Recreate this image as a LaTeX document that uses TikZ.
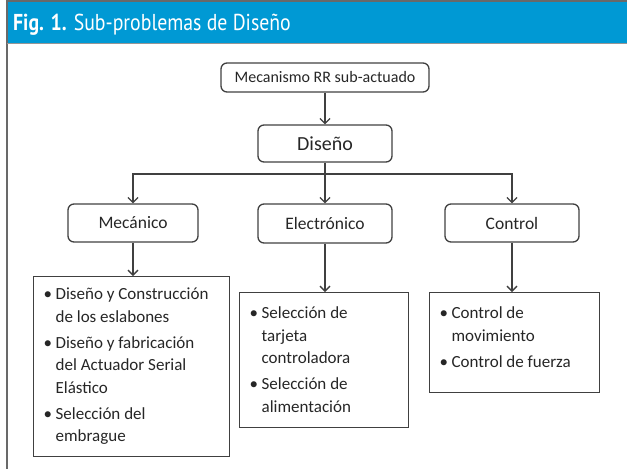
\documentclass[tikz,border=0pt]{standalone}
\usepackage{fontspec}
\setmainfont{Carlito}
\newfontfamily\titlefont[FakeStretch=0.86]{PT Sans}
\usetikzlibrary{arrows.meta}
\tikzset{>={Straight Barb[length=5pt,width=10pt]}}

\definecolor{figblue}{RGB}{0,153,212}
\definecolor{linegray}{RGB}{64,64,64}
\definecolor{framegray}{RGB}{105,105,105}

% punto de lista con sangria francesa
\newcommand{\bitem}[1]{\par\vspace{3.5pt}\hangindent=22pt\hangafter=1\noindent\hspace*{10pt}\makebox[12pt][l]{\textbullet}#1}

\tikzset{
  topbox/.style={draw=linegray, line width=1.3pt, rounded corners=6pt, inner sep=0pt,
    text=black!85, font=\fontsize{17.5}{21}\selectfont},
  listbox/.style={draw=linegray, line width=1.3pt, inner sep=0pt, anchor=north west,
    text=black!85, font=\fontsize{17}{22.5}\selectfont},
  conector/.style={draw=linegray, line width=1.3pt}
}

\begin{document}
\begin{tikzpicture}[x=1pt,y=-1pt]
    \useasboundingbox (0,0) rectangle (627,469);
    % marco y titulo
    \fill[figblue] (7,1) rectangle (627,43);
    \draw[framegray, line width=1.5pt] (627,0.75) -- (7,0.75) -- (7,469);
    \draw[framegray!70, line width=0.8pt] (7,43) -- (627,43);
    \node[anchor=base west, inner sep=0pt, text=white, font=\titlefont\fontsize{23}{27}\selectfont] (title) at (13,30) {\textbf{Fig. 1.} Sub-problemas de Diseño};

    \node[topbox, minimum width=208pt, minimum height=29pt, font=\fontsize{16}{19}\selectfont] (mecanismo) at (325,77.5) {Mecanismo RR sub-actuado};
    \node[topbox, minimum width=134pt, minimum height=37pt, font=\fontsize{20}{24}\selectfont] (diseno) at (325,143.5) {Diseño};
    \coordinate (bus) at (325,174);

    \node[topbox, minimum width=130pt, minimum height=38pt] (mecanico) at (133,223) {Mecánico};
    \node[topbox, minimum width=134pt, minimum height=39pt] (electronico) at (325,223.5) {Electrónico};
    \node[topbox, minimum width=134pt, minimum height=38pt] (control) at (512,223) {Control};

    \node[listbox] (listamec) at (33,276) {\parbox[c][180pt][t]{196pt}{\raggedright\vspace*{8pt}
        \bitem{Diseño y Construcción\newline de los eslabones}
        \bitem{Diseño y fabricación\newline del Actuador Serial\newline Elástico}
        \bitem{Selección del\newline embrague}}};
    \node[listbox] (listaelec) at (239,292) {\parbox[c][135pt][t]{169pt}{\raggedright\vspace*{11pt}
        \bitem{Selección de\newline tarjeta\newline controladora}
        \bitem{Selección de\newline alimentación}}};
    \node[listbox] (listactrl) at (429,292) {\parbox[c][100pt][t]{170pt}{\raggedright\vspace*{11pt}
        \bitem{Control de\newline movimiento}
        \bitem{Control de fuerza}}};

    \draw[conector,->] (mecanismo) -- (diseno);
    \draw[conector] (diseno) -- (bus);
    \draw[conector,->] (bus) -| (mecanico);
    \draw[conector,->] (bus) -- (electronico);
    \draw[conector,->] (bus) -| (control);
    \draw[conector,->] (mecanico) -- (mecanico |- listamec.north);
    \draw[conector,->] (electronico) -- (electronico |- listaelec.north);
    \draw[conector,->] (control) -- (control |- listactrl.north);
\end{tikzpicture}
\end{document}
